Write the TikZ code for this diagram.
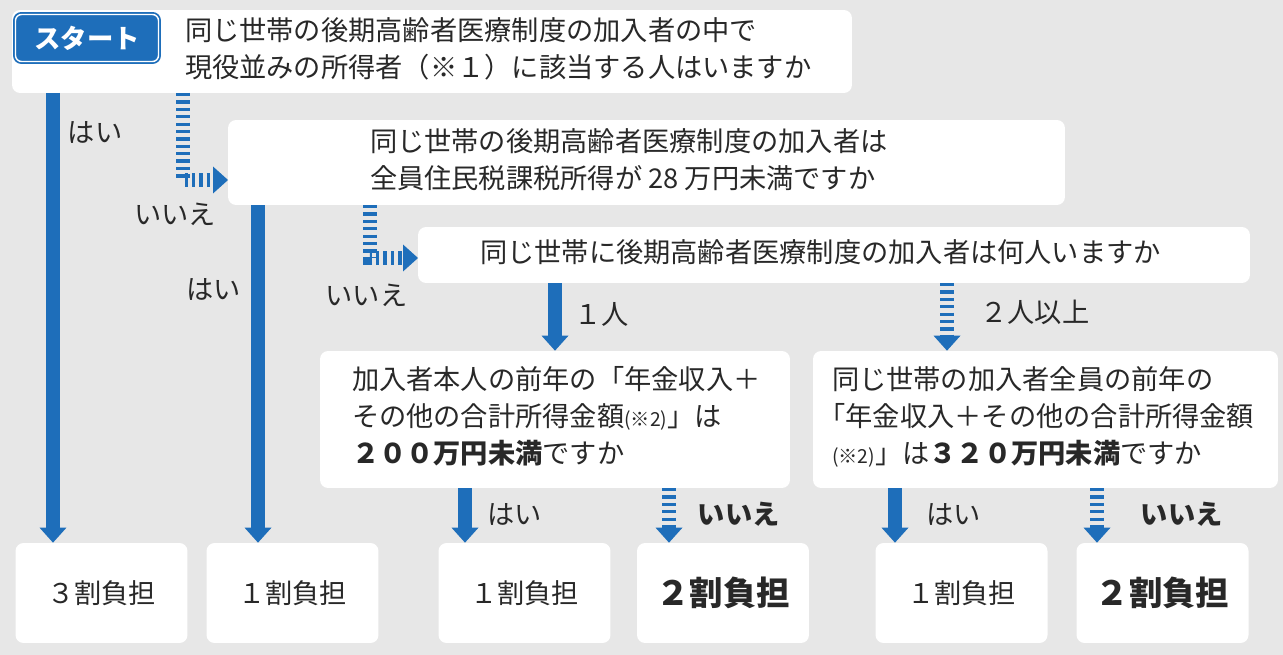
\documentclass[tikz,border=0pt]{standalone}
\usepackage{fontspec}
\setmainfont{Noto Sans CJK JP}
\usetikzlibrary{arrows.meta}
\definecolor{stblue}{RGB}{30,110,186}
\definecolor{paper}{RGB}{231,231,231}
\definecolor{ink}{RGB}{40,40,40}
\def\qfont{\fontsize{15.5pt}{21pt}\selectfont}
\def\notefont{\fontsize{11pt}{13pt}\selectfont}
\def\bigfont{\fontsize{19pt}{22pt}\selectfont\bfseries}
\def\qtext#1#2#3{\makebox[#1][l]{\hspace*{#2}\begin{tabular}{@{}l@{}}#3\end{tabular}}}
\tikzset{
  box/.style={fill=white, rounded corners=0.16cm, inner sep=0pt, text=ink, font=\qfont},
  rbox/.style={box, minimum width=3.44cm, minimum height=2cm},
  startbtn/.style={fill=stblue, draw=stblue, double=white, double distance=0.8pt, line width=1pt,
    rounded corners=0.12cm, minimum width=2.86cm, minimum height=0.94cm, text=white, font=\fontsize{15pt}{18pt}\selectfont\bfseries},
  yesarrow/.style={stblue, line width=7.9pt, -{Triangle[length=0.3cm,width=0.54cm,line width=0pt]}},
  noarrow/.style={yesarrow, dash pattern=on 1.9pt off 2.3pt},
  lab/.style={inner sep=0pt, text=ink, font=\qfont},
}
\begin{document}
\begin{tikzpicture}[x=0.02cm, y=0.02cm]
\fill[paper] (0,0) rectangle (1283,-655);
\useasboundingbox (0,0) rectangle (1283,-655);
%
\node [box, minimum width=16.8cm, minimum height=1.66cm] at (432,-51.5) (q1) {\qtext{16.8cm}{3.46cm}{同じ世帯の後期高齢者医療制度の加入者の中で\\現役並みの所得者（※１）に該当する人はいますか}};
 \node [startbtn] at (87,-38) (start) {スタート};
  \node [box, minimum width=16.74cm, minimum height=1.7cm] at (646.5,-162.5) (q2) {\qtext{16.74cm}{2.84cm}{同じ世帯の後期高齢者医療制度の加入者は\\全員住民税課税所得が 28 万円未満ですか}};
   \node [box, minimum width=16.64cm, minimum height=1.12cm] at (834,-255) (q3) {\qtext{16.64cm}{1.24cm}{同じ世帯に後期高齢者医療制度の加入者は何人いますか}};
    \node [box, minimum width=9.4cm, minimum height=2.74cm] at (555,-419.5) (q4) {\qtext{9.4cm}{0.64cm}{加入者本人の前年の「年金収入＋\\その他の合計所得金額{\notefont(※2)}」は\\\textbf{２００万円未満}ですか}};
     \node [box, minimum width=9.3cm, minimum height=2.74cm] at (1045.5,-419.5) (q5) {\qtext{9.3cm}{0.38cm}{同じ世帯の加入者全員の前年の\\\hspace*{-0.5em}「年金収入＋その他の合計所得金額\\{\notefont(※2)}」は\textbf{３２０万円未満}ですか}};
%
\node [rbox] at (101.5,-593) (r1) {３割負担};
 \node [rbox] at (292.5,-593) (r2) {１割負担};
  \node [rbox] at (524.5,-593) (r3) {１割負担};
   \node [rbox, font=\bigfont] at (723,-593) (r4) {２割負担};
    \node [rbox] at (961.5,-593) (r5) {１割負担};
     \node [rbox, font=\bigfont] at (1162.5,-593) (r6) {２割負担};
%
\coordinate (yes1) at (53,-93);
\coordinate (no1) at (183,-93);
\coordinate (no1e) at (228,-180);
\coordinate (yes2) at (258,-205);
\coordinate (no2) at (370,-205);
\coordinate (no2e) at (418,-258);
\coordinate (one) at (555,-283);
\coordinate (two) at (947,-283);
\coordinate (yes4) at (465,-488);
\coordinate (no4) at (669,-488);
\coordinate (yes5) at (895,-488);
\coordinate (no5) at (1097,-488);
%
\path[yesarrow] (yes1) edge node [lab, right=4.5pt, pos=.087] (l1) {はい} (yes1 |- r1.north);
\draw[noarrow] (no1) |- node [lab, below=9pt, xshift=-4.5pt] (l2) {いいえ} (no1e);
\path[yesarrow] (yes2) edge node [lab, left=6pt, pos=.25] (l3) {はい} (yes2 |- r2.north);
\draw[noarrow] (no2) |- node [lab, below=11pt, xshift=-2pt] (l4) {いいえ} (no2e);
\path[yesarrow] (one) edge node [lab, right=7pt, pos=.47] (l5) {１人} (one |- q4.north);
\path[noarrow] (two) edge node [lab, right=15pt, pos=.44] (l6) {２人以上} (two |- q5.north);
\path[yesarrow] (yes4) edge node [lab, right=9pt, pos=.48] (l7) {はい} (yes4 |- r3.north);
\path[noarrow] (no4) edge node [lab, right=12.5pt, pos=.48, font=\qfont\bfseries] (l8) {いいえ} (no4 |- r4.north);
\path[yesarrow] (yes5) edge node [lab, right=14pt, pos=.48] (l9) {はい} (yes5 |- r5.north);
\path[noarrow] (no5) edge node [lab, right=21pt, pos=.48, font=\qfont\bfseries] (l10) {いいえ} (no5 |- r6.north);

\end{tikzpicture}
\end{document}
